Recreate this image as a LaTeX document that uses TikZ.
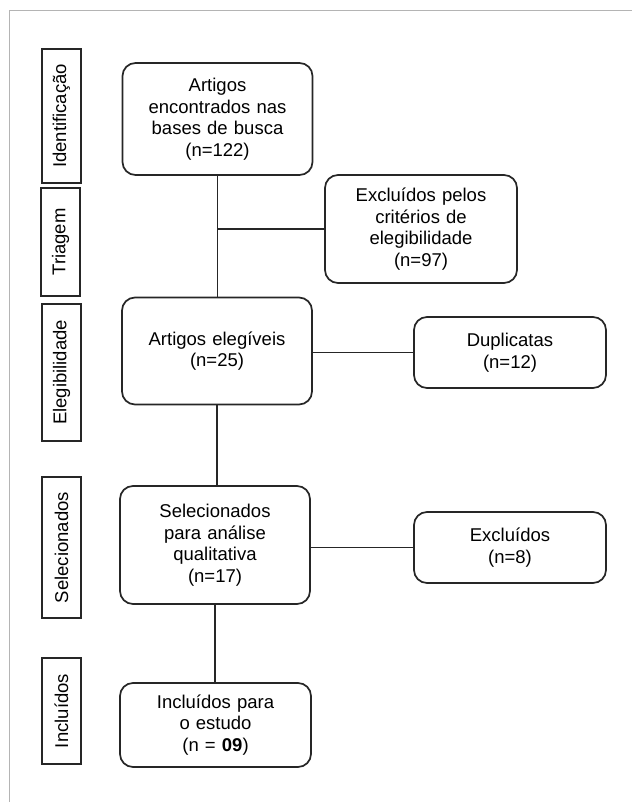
\documentclass[tikz,border=0pt]{standalone}
\usepackage{fontspec}
\setmainfont{Liberation Sans}
\definecolor{framegray}{HTML}{B4B4B4}
\definecolor{boxline}{HTML}{262626}
\tikzset{
  stage/.style={draw=boxline, line width=1.7pt, rounded corners=13pt, align=center,
    text width=190pt, inner sep=0pt, font=\fontsize{18.5}{21.5}\selectfont},
  phase/.style={draw=boxline, line width=1.4pt, rotate=90, minimum height=39pt,
    inner sep=0pt, font=\fontsize{18.5}{21.5}\selectfont},
  link/.style={draw=boxline, line width=1.5pt}
}
\begin{document}
\begin{tikzpicture}[x=1pt,y=-1pt]
  \useasboundingbox (0,0) rectangle (632,802);
  \draw[framegray, line width=1pt] (9,802) -- (9,11) -- (632,11);
  % fases
  \node[phase, minimum width=134pt] (ident) at (61.5,116) {Identificação};
  \node[phase, minimum width=108pt] (triag) at (60.5,242) {Triagem};
  \node[phase, minimum width=137pt] (eleg) at (61.5,372.5) {Elegibilidade};
  \node[phase, minimum width=141pt] (selec) at (61.5,547.5) {Selecionados};
  \node[phase, minimum width=106pt] (incl) at (61.5,711) {Incluídos};
  % caixas
  \node[stage, minimum height=112pt] (artigos) at (217.5,119) {Artigos\\encontrados nas\\bases de busca\\(n=122)};
  \node[stage, minimum height=108pt, text width=192pt] (criterios) at (421,229) {Excluídos pelos\\critérios de\\elegibilidade\\(n=97)};
  \node[stage, minimum height=107pt] (elegiveis) at (217,351) {Artigos elegíveis\\(n=25)};
  \node[stage, minimum height=71pt, text width=192pt] (duplic) at (510,352.5) {Duplicatas\\(n=12)};
  \node[stage, minimum height=118pt] (selecion) at (215,545) {Selecionados\\para análise\\qualitativa\\(n=17)};
  \node[stage, minimum height=71pt, text width=192pt] (excluidos) at (510,547.5) {Excluídos\\(n=8)};
  \node[stage, minimum height=84pt, text width=191pt] (inclusos) at (215.5,725) {Incluídos para\\o estudo\\(n = \textbf{09})};
  % ligacoes
  \draw[link] (artigos.south) -- (elegiveis.north -| artigos.south);
  \draw[link] (criterios.west) -- (criterios.west -| artigos.south);
  \draw[link] (duplic.west) -- (duplic.west -| elegiveis.east);
  \draw[link] (elegiveis.south) -- (selecion.north -| elegiveis.south);
  \draw[link] (excluidos.west) -- (excluidos.west -| selecion.east);
  \draw[link] (selecion.south) -- (inclusos.north -| selecion.south);
\end{tikzpicture}
\end{document}
